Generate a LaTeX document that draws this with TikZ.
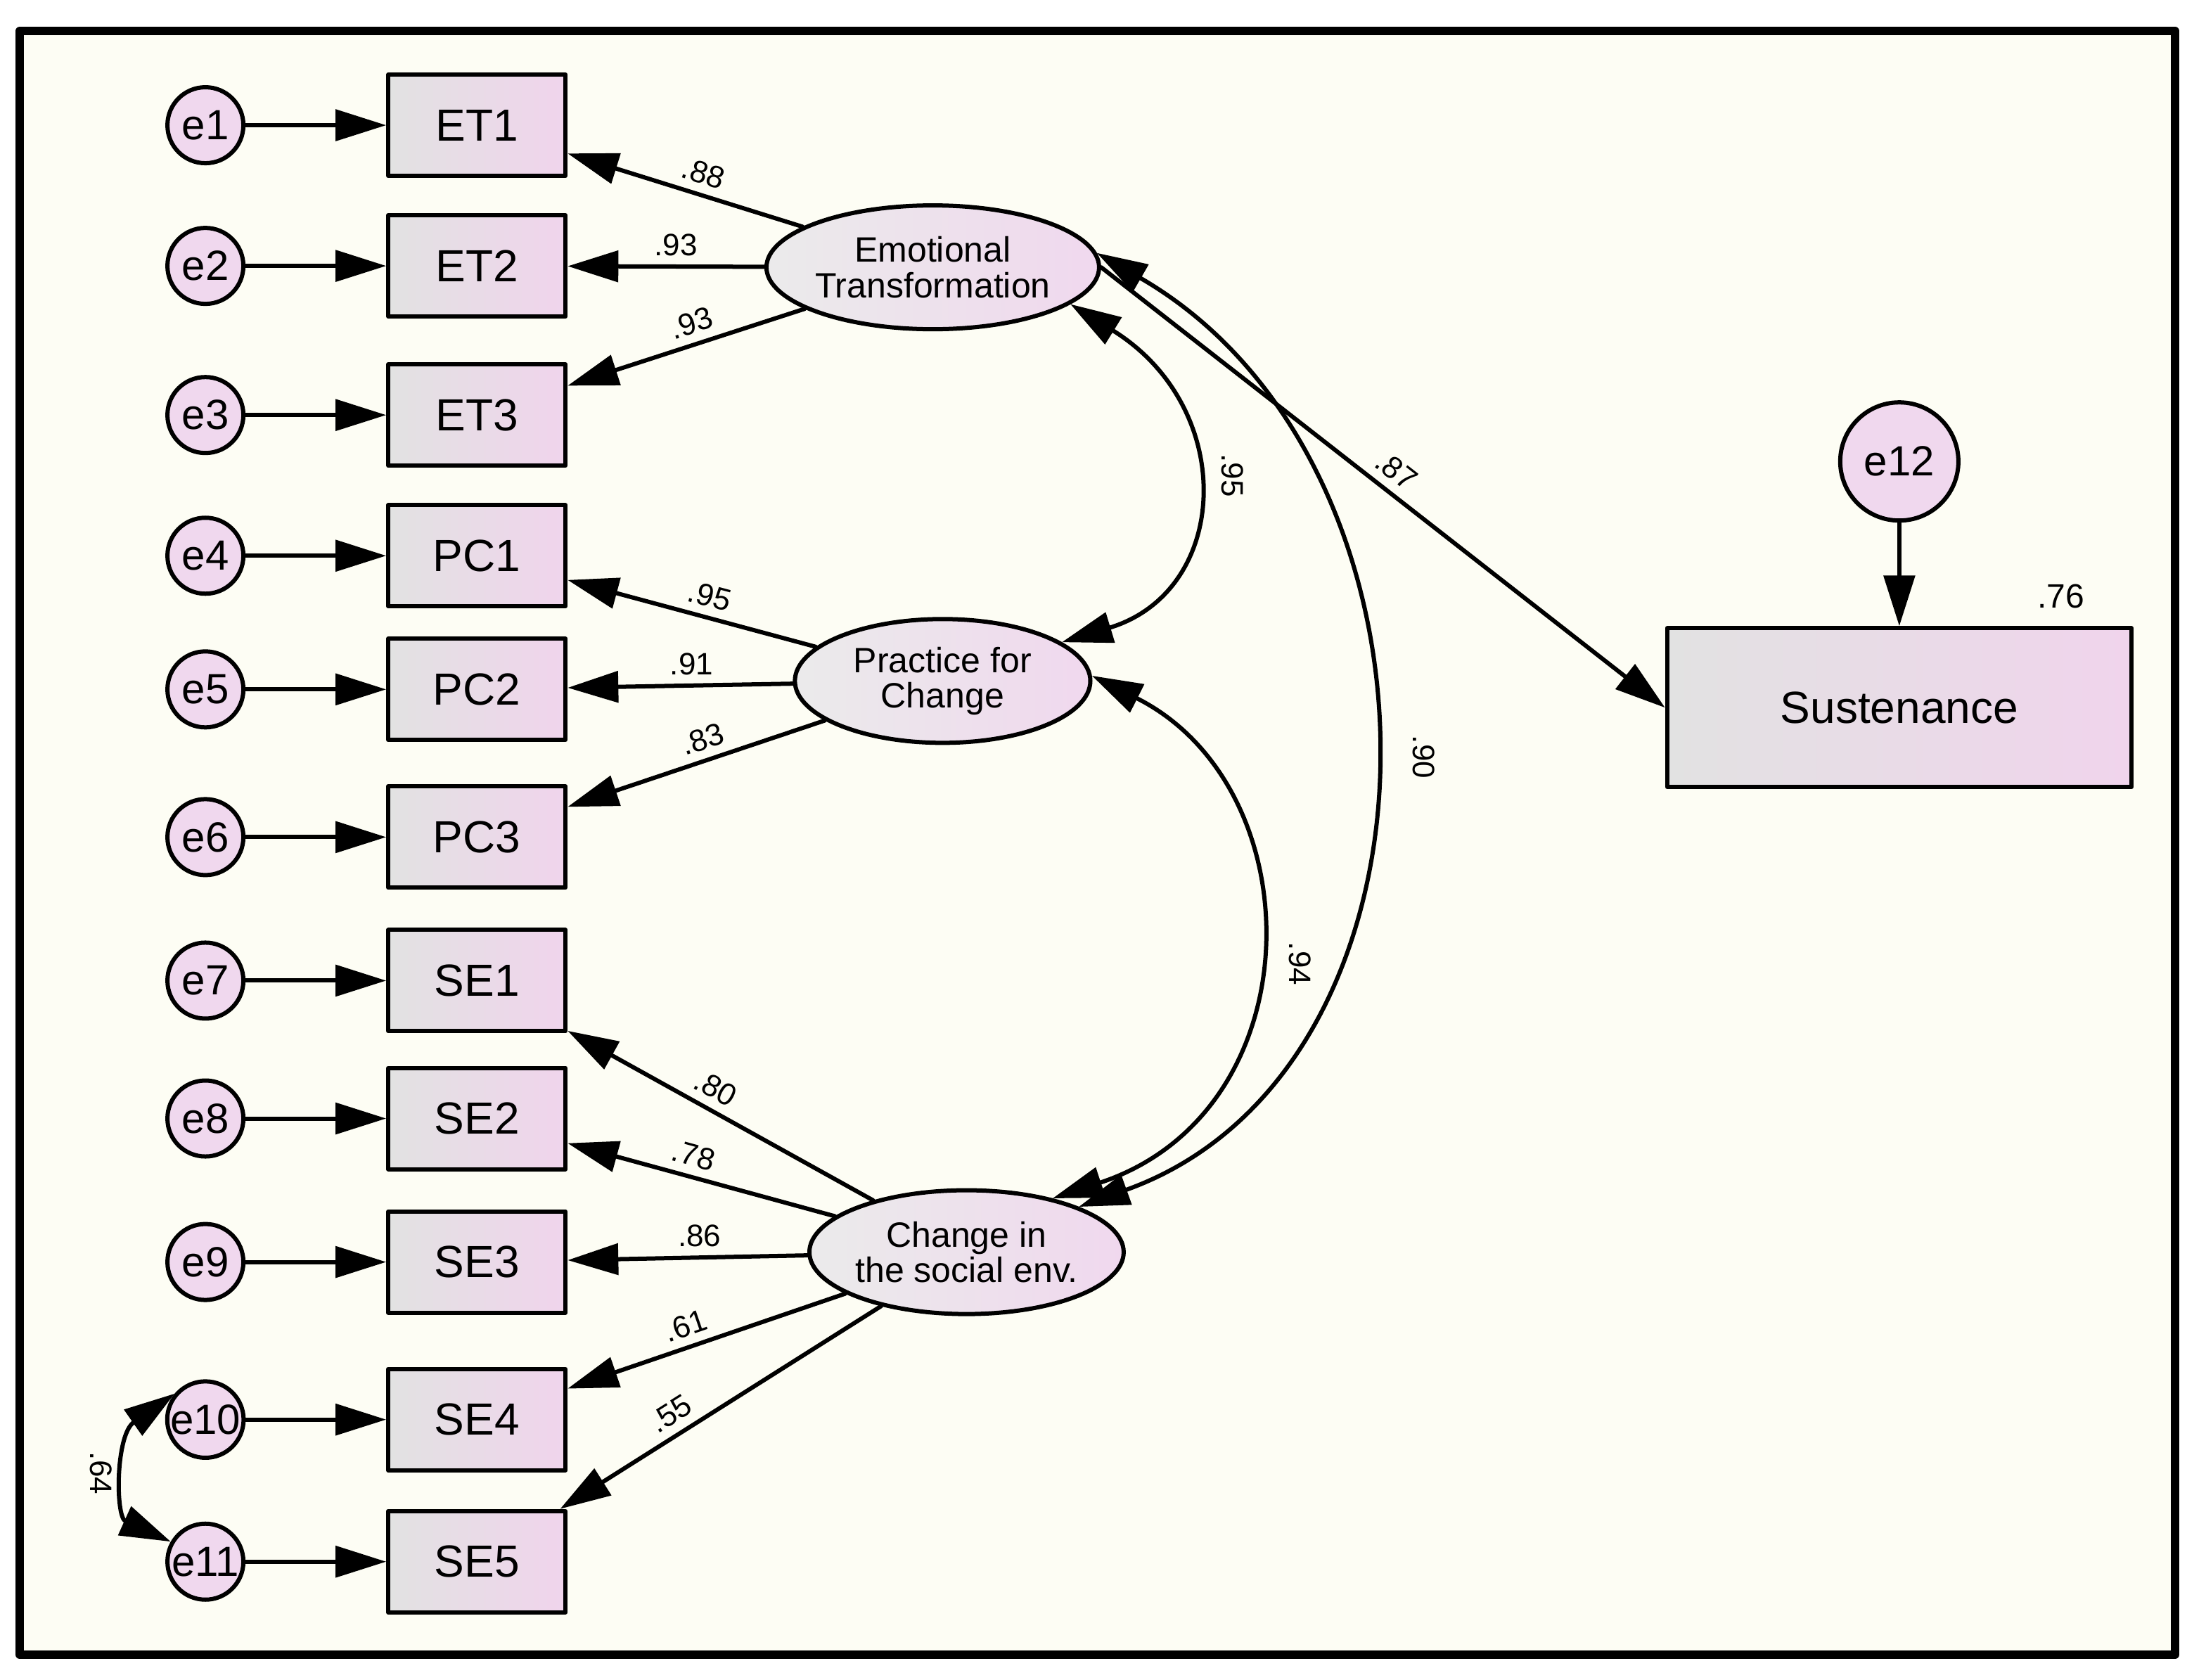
\documentclass[tikz,border=0pt]{standalone}
\usepackage{fontspec}
\setmainfont{Liberation Sans}
\usetikzlibrary{arrows.meta,shapes.geometric}
\definecolor{paper}{HTML}{FDFDF4}
\definecolor{boxgray}{HTML}{E2E2E2}
\definecolor{boxpink}{HTML}{F0D4EC}
\definecolor{errpink}{HTML}{F0D8EE}
\tikzset{
  obs/.style={draw,line width=3pt,minimum width=126pt,minimum height=72pt,left color=boxgray,right color=boxpink,font=\fontsize{32}{36}\selectfont},
  lat/.style={ellipse,draw,line width=3pt,minimum width=210pt,minimum height=88pt,inner sep=0pt,left color=boxgray!70!white,right color=errpink,font=\fontsize{25}{28}\selectfont,align=center},
  err/.style={circle,draw,line width=3pt,minimum size=54pt,inner sep=0pt,fill=errpink,font=\fontsize{30}{32}\selectfont},
  path/.style={line width=3pt,-{Triangle[length=36pt,width=22pt]}},
  both/.style={line width=3pt,{Triangle[length=36pt,width=22pt]}-{Triangle[length=36pt,width=22pt]}},
  coef/.style={font=\fontsize{22}{24}\selectfont,inner sep=6pt}
}
\begin{document}
\begin{tikzpicture}[line cap=round,line join=round,x=1pt,y=-1pt]
\useasboundingbox (0,0) rectangle (1568,1194);
\draw[line width=6pt,fill=paper] (14,22) rectangle (1546,1176);
% indicators
\foreach \n/\y [count=\i] in {ET1/89,ET2/189,ET3/295,PC1/395,PC2/490,PC3/595,SE1/697,SE2/795,SE3/897,SE4/1009,SE5/1110}{
  \node[obs] (\n) at (339,\y) {\n};
  \node[err] (e\i) at (146,\y) {e\i};
  \draw[path] (e\i) -- (\n);
}
% latents
\node[lat] (ET) at (663,190) {Emotional\\[-3pt]Transformation};
\node[lat] (PC) at (670,484) {Practice for\\[-3pt]Change};
\node[lat] (SE) at (687,890) {Change in\\[-3pt]the social env.};
\node[obs,minimum width=330pt,minimum height=113pt] (SUS) at (1350,503) {Sustenance};
\node[err,minimum size=84pt] (e12) at (1350,328) {e12};
\node[coef,font=\fontsize{24}{26}\selectfont] at (1465,424) {.76};
% loadings
\draw[path] (ET) -- node[coef,pos=0.45,above,sloped] {.88} (ET1);
\draw[path] (ET) -- node[coef,pos=0.45,above] {.93} (ET2);
\draw[path] (ET) -- node[coef,pos=0.45,above,sloped] {.93} (ET3);
\draw[path] (PC) -- node[coef,pos=0.45,above,sloped] {.95} (PC1);
\draw[path] (PC) -- node[coef,pos=0.45,above] {.91} (PC2);
\draw[path] (PC) -- node[coef,pos=0.45,above,sloped] {.83} (PC3);
\draw[path] (SE) -- node[coef,pos=0.55,above,sloped] {.80} (SE1);
\draw[path] (SE) -- node[coef,pos=0.55,above,sloped] {.78} (SE2);
\draw[path] (SE) -- node[coef,pos=0.45,above] {.86} (SE3);
\draw[path] (SE) -- node[coef,pos=0.55,above,sloped] {.61} (SE4);
\draw[path] (SE) -- node[coef,pos=0.62,above,sloped] {.55} (SE5);
\draw[path] (ET.east) -- node[coef,pos=0.5,above,sloped] {.87} (SUS.west);
\draw[path] (e12) -- (SUS);
% covariances
\draw[both] (ET.-15) .. controls (880,290) and (875,420) .. (PC.18);
\draw[both] (ET.5) .. controls (1040,330) and (1040,760) .. (SE.22);
\draw[both] (PC.2) .. controls (935,560) and (935,790) .. (SE.32);
\draw[both] (e10.140) .. controls (82,1020) and (82,1078) .. (e11.150);
\node[coef,rotate=-90] at (876,338) {.95};
\node[coef,rotate=-90] at (1012,538) {.90};
\node[coef,rotate=-90] at (924,685) {.94};
\node[coef,rotate=-90] at (72,1047) {.64};
\end{tikzpicture}
\end{document}
